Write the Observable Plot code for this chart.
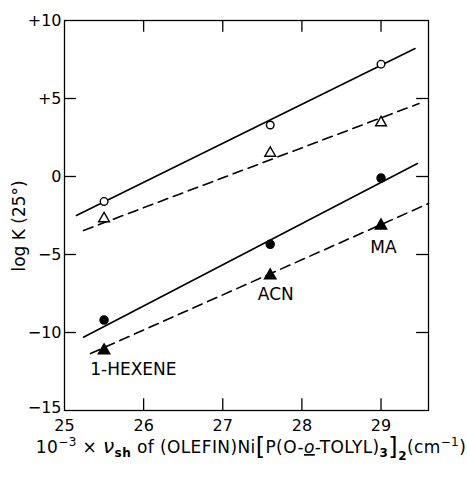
<!DOCTYPE html>
<html><head><meta charset="utf-8">
<script src="https://cdn.jsdelivr.net/npm/d3@7"></script>
<script src="https://cdn.jsdelivr.net/npm/@observablehq/plot@0.6"></script>
<style>body{margin:0;background:#fff;} svg{font-family:"DejaVu Sans",sans-serif;}</style>
</head><body><div id="chart"></div>
<script>
// Data
const xs = [25.5, 27.6, 29.0];
const openCircle = [-1.6, 3.3, 7.2];
const openTriangle = [-2.7, 1.5, 3.45];
const filledCircle = [-9.2, -4.35, -0.1];
const filledTriangle = [-11.15, -6.35, -3.15];
// fitted lines: [x1, x2], [y1, y2]
const lineOpenCircleX = [25.15, 29.43], lineOpenCircleY = [-2.5, 8.2];
const lineOpenTriX = [25.24, 29.48], lineOpenTriY = [-3.46, 4.68];
const lineFilledCircleX = [25.24, 29.46], lineFilledCircleY = [-10.3, 0.83];
const lineFilledTriX = [25.33, 29.6], lineFilledTriY = [-11.35, -1.73];
const labelNames = ["MA", "ACN", "1-HEXENE"];
const labelX = [29.03, 27.67, 25.87];
const labelY = [-4.55, -7.56, -12.4];
const xTicks = [25, 26, 27, 28, 29];
const yTicks = [-15, -10, -5, 0, 5, 10];
const yTickLabels = ["\u221215", "\u221210", "\u22125", "0", "+5", "+10"];

const pts = (ys) => xs.map((x, i) => ({x, y: ys[i]}));
const seg = (X, Y) => X.map((x, i) => ({x, y: Y[i]}));
const labels = labelNames.map((t, i) => ({t, x: labelX[i], y: labelY[i]}));
const innerX = [26, 27, 28, 29];
const innerY = [-10, -5, 0, 5];

const plot = Plot.plot({
  width: 467, height: 477,
  marginLeft: 64, marginRight: 39, marginTop: 20, marginBottom: 67,
  style: {fontSize: "16px", fontFamily: "DejaVu Sans, sans-serif", color: "#000", background: "#fff"},
  x: {domain: [25, 29.6]},
  y: {domain: [-15, 10]},
  marks: [
    Plot.frame({stroke: "#000", strokeWidth: 1.3}),
    Plot.axisX(xTicks, {tickSize: 0, tickPadding: 9, label: null, fontSize: 16}),
    Plot.axisY(yTicks.slice(1), {tickSize: 0, tickPadding: 3, label: null, fontSize: 16,
      tickFormat: (d) => yTickLabels[yTicks.indexOf(d)]}),
    Plot.axisY(yTicks.slice(0, 1), {tickSize: 0, tickPadding: 3, label: null, fontSize: 16, dy: -3,
      tickFormat: (d) => yTickLabels[yTicks.indexOf(d)]}),
    // inward ticks
    Plot.ruleX(innerX, {y1: -15, y2: -14.25, stroke: "#000", strokeWidth: 1.3}),
    Plot.ruleX(innerX, {y1: 10, y2: 9.25, stroke: "#000", strokeWidth: 1.3}),
    Plot.ruleY(innerY, {x1: 25, x2: 25.15, stroke: "#000", strokeWidth: 1.3}),
    Plot.ruleY(innerY, {x1: 29.6, x2: 29.45, stroke: "#000", strokeWidth: 1.3}),
    // lines
    Plot.line(seg(lineOpenCircleX, lineOpenCircleY), {x: "x", y: "y", stroke: "#000", strokeWidth: 1.6}),
    Plot.line(seg(lineOpenTriX, lineOpenTriY), {x: "x", y: "y", stroke: "#000", strokeWidth: 1.6, strokeDasharray: "10,6"}),
    Plot.line(seg(lineFilledCircleX, lineFilledCircleY), {x: "x", y: "y", stroke: "#000", strokeWidth: 1.6}),
    Plot.line(seg(lineFilledTriX, lineFilledTriY), {x: "x", y: "y", stroke: "#000", strokeWidth: 1.6, strokeDasharray: "10,6"}),
    // points
    Plot.dot(pts(openCircle), {x: "x", y: "y", r: 3.8, fill: "#fff", stroke: "#000", strokeWidth: 1.4}),
    Plot.dot(pts(openTriangle), {x: "x", y: "y", r: 4, symbol: "triangle", fill: "#fff", stroke: "#000", strokeWidth: 1.4}),
    Plot.dot(pts(filledCircle), {x: "x", y: "y", r: 4, fill: "#000", stroke: "#000"}),
    Plot.dot(pts(filledTriangle), {x: "x", y: "y", r: 4.2, symbol: "triangle", fill: "#000", stroke: "#000"}),
    // labels
    Plot.text(labels, {x: "x", y: "y", text: "t", fontSize: 17, fill: "#000"})
  ]
});
document.getElementById("chart").appendChild(plot);

// Axis titles with sub/superscripts
const svg = d3.select(plot);
const xs_ = plot.scale("x"), ys_ = plot.scale("y");
svg.append("text")
  .attr("transform", `translate(${xs_.apply(25) - 44},${ys_.apply(-3.2)}) rotate(-90)`)
  .attr("text-anchor", "middle").attr("dominant-baseline", "middle")
  .attr("font-size", 17).attr("fill", "#000")
  .text("log K (25°)");

const t = svg.append("text")
  .attr("x", 251).attr("y", 453)
  .attr("text-anchor", "middle").attr("font-size", 17).attr("letter-spacing", 0.4).attr("fill", "#000");
t.append("tspan").text("10");
t.append("tspan").attr("font-size", 12).attr("dy", -7).text("\u22123");
t.append("tspan").attr("dy", 7).text(" \u00d7 ");
t.append("tspan").attr("font-style", "italic").attr("font-size", 20).text("\u03bd");
t.append("tspan").attr("font-size", 12).attr("dy", 4).attr("font-weight", "bold").text("sh");
t.append("tspan").attr("dy", -4).text(" of (OLEFIN)Ni");
t.append("tspan").attr("font-size", 24).attr("dy", 1.5).text("[");
t.append("tspan").attr("dy", -1.5).text("P(O-");
t.append("tspan").attr("font-style", "italic").attr("text-decoration", "underline").text("o");
t.append("tspan").text("-TOLYL)");
t.append("tspan").attr("font-size", 12).attr("dy", 4).attr("font-weight", "bold").text("3");
t.append("tspan").attr("font-size", 24).attr("dy", -2.5).text("]");
t.append("tspan").attr("font-size", 12).attr("dy", 5).attr("font-weight", "bold").text("2");
t.append("tspan").attr("dy", -6.5).text("(cm");
t.append("tspan").attr("font-size", 12).attr("dy", -7).text("\u22121");
t.append("tspan").attr("dy", 7).text(")");
</script>
</body></html>
